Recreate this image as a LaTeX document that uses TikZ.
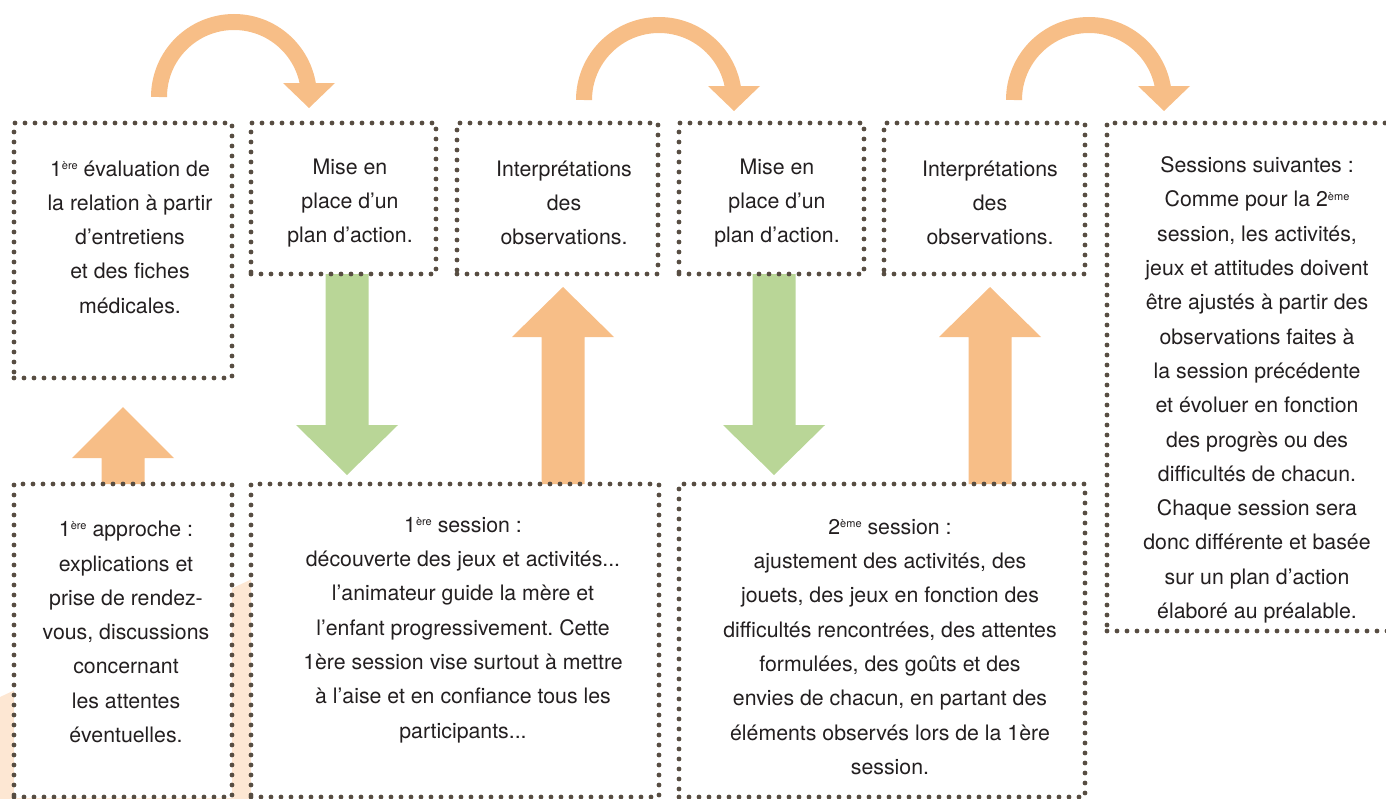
\documentclass[tikz,border=0pt]{standalone}
\usepackage{fontspec}
\setmainfont{TeX Gyre Heros}
\frenchspacing
\definecolor{dotc}{HTML}{574D42}
\definecolor{peachc}{HTML}{F7BE87}
\definecolor{greenc}{HTML}{B9D697}
\definecolor{bgpeach}{HTML}{FDE7D3}
\definecolor{textc}{HTML}{231F20}
\newcommand{\supx}[1]{\raisebox{0.62ex}{\fontsize{11}{11}\selectfont #1}}
\begin{document}
\begin{tikzpicture}[x=1pt,y=-1pt,
  dotbox/.style={draw=dotc, line width=4.8pt, dash pattern=on 0pt off 10pt, line cap=round, inner sep=0pt, outer sep=0pt, anchor=north west},
  whitebox/.style={fill=white, inner sep=0pt, outer sep=0pt, anchor=north west},
  txt/.style={text=textc, align=center, font=\fontsize{21.3}{34.3}\selectfont, inner sep=0pt}]
\useasboundingbox (0,0) rectangle (1386,798);
\clip (0,0) rectangle (1386,798);
% background band
\fill[bgpeach] (0,697) -- (252,579) -- (252,800) -- (0,800) -- cycle;
% white fills of the boxes
\node[whitebox,minimum width=218pt,minimum height=255pt] (fA) at (14,123) {};
\node[whitebox,minimum width=185pt,minimum height=151pt] (fB) at (251,123) {};
\node[whitebox,minimum width=201pt,minimum height=151pt] (fC) at (457,123) {};
\node[whitebox,minimum width=185pt,minimum height=151pt] (fD) at (679,123) {};
\node[whitebox,minimum width=201pt,minimum height=151pt] (fE) at (884,123) {};
\node[whitebox,minimum width=300pt,minimum height=508pt] (fF) at (1107,123) {};
\node[whitebox,minimum width=218pt,minimum height=314pt] (fG) at (14,484) {};
\node[whitebox,minimum width=408pt,minimum height=314pt] (fH) at (251,484) {};
\node[whitebox,minimum width=406pt,minimum height=314pt] (fI) at (679,484) {};
% curved arrows
\foreach \cx/\cy in {234/97,659/100,1089/100}{
  \draw[peachc, line width=16pt] (\cx-75,\cy) arc[start angle=180,end angle=0,radius=75pt];
  \fill[peachc] (\cx+49,\cy-14) -- (\cx+101,\cy-14) -- (\cx+75,\cy+11) -- cycle;
}
% up arrows
\foreach \c/\yh/\yt in {123/458/407, 563/337/287, 990/337/287}{
  \fill[peachc] (\c-21.5,484) -- (\c-21.5,\yh) -- (\c-51,\yh) -- (\c,\yt) -- (\c+51,\yh) -- (\c+21.5,\yh) -- (\c+21.5,484) -- cycle;
}
% down arrows
\foreach \c in {347,774}{
  \fill[greenc] (\c-21.5,274) -- (\c-21.5,425) -- (\c-51,425) -- (\c,475) -- (\c+51,425) -- (\c+21.5,425) -- (\c+21.5,274) -- cycle;
}
% dotted boxes
\node[dotbox,minimum width=218pt,minimum height=255pt] (bA) at (14,123) {};
\node[dotbox,minimum width=185pt,minimum height=151pt] (bB) at (251,123) {};
\node[dotbox,minimum width=201pt,minimum height=151pt] (bC) at (457,123) {};
\node[dotbox,minimum width=185pt,minimum height=151pt] (bD) at (679,123) {};
\node[dotbox,minimum width=201pt,minimum height=151pt] (bE) at (884,123) {};
\node[dotbox,minimum width=300pt,minimum height=508pt] (bF) at (1107,123) {};
\node[dotbox,minimum width=218pt,minimum height=313pt] (bG) at (14,484) {};
\node[dotbox,minimum width=408pt,minimum height=313pt] (bH) at (251,484) {};
\node[dotbox,minimum width=406pt,minimum height=313pt] (bI) at (679,484) {};
% texts
\node[txt] (tA) at (130,237) {1\supx{ère} évaluation de\\la relation à partir\\d’entretiens\\et des fiches\\médicales.};
\node[txt] (tB) at (350,203) {Mise en\\place d’un\\plan d’action.};
\node[txt] (tC) at (564,203) {Interprétations\\des\\observations.};
\node[txt] (tD) at (777,203) {Mise en\\place d’un\\plan d’action.};
\node[txt] (tE) at (990,203) {Interprétations\\des\\observations.};
\node[txt] (tF) at (1257,390) {Sessions suivantes :\\Comme pour la 2\supx{ème}\\session, les activités,\\jeux et attitudes doivent\\être ajustés à partir des\\observations faites à\\la session précédente\\et évoluer en fonction\\des progrès ou des\\difficultés de chacun.\\Chaque session sera\\donc différente et basée\\sur un plan d’action\\élaboré au préalable.};
\node[txt] (tG) at (126,632) {1\supx{ère} approche :\\explications et\\prise de rendez-\\vous, discussions\\concernant\\les attentes\\éventuelles.};
\node[txt] (tH) at (463,630) {1\supx{ère} session :\\découverte des jeux et activités...\\l’animateur guide la mère et\\l’enfant progressivement. Cette\\1ère session vise surtout à mettre\\à l’aise et en confiance tous les\\participants...};
\node[txt] (tI) at (890,647) {2\supx{ème} session :\\ajustement des activités, des\\jouets, des jeux en fonction des\\difficultés rencontrées, des attentes\\formulées, des goûts et des\\envies de chacun, en partant des\\éléments observés lors de la 1ère\\session.};
\end{tikzpicture}
\end{document}
